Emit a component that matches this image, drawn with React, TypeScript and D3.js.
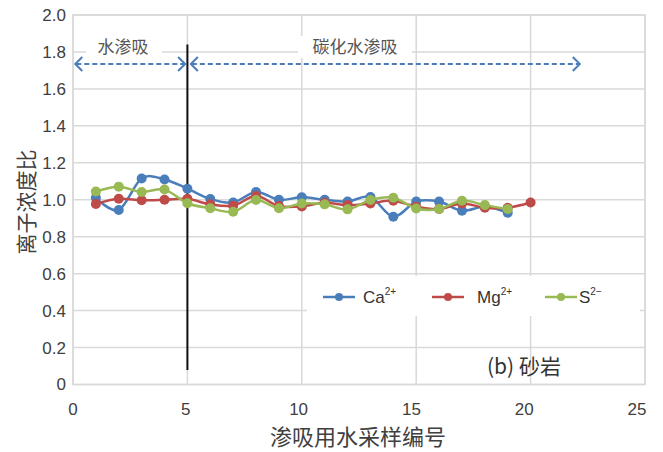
import React from "react";
import * as d3 from "d3";

// Sample numbers along the x axis
const samples = [1, 2, 3, 4, 5, 6, 7, 8, 9, 10, 11, 12, 13, 14, 15, 16, 17, 18, 19, 20];

// Ion concentration ratios per sample
const caValues = [1.01, 0.945, 1.115, 1.11, 1.06, 1.004, 0.985, 1.042, 1.0, 1.013, 1.0, 0.99, 1.015, 0.908, 0.99, 0.99, 0.941, 0.962, 0.93];
const mgValues = [0.977, 1.005, 0.997, 1.0, 1.005, 0.975, 0.968, 1.02, 0.966, 0.964, 0.984, 0.971, 0.98, 0.995, 0.962, 0.95, 0.98, 0.957, 0.957, 0.985];
const sValues = [1.045, 1.071, 1.042, 1.055, 0.981, 0.954, 0.935, 0.999, 0.954, 0.98, 0.975, 0.948, 0.999, 1.011, 0.953, 0.95, 0.995, 0.971, 0.95];

const xTicks = [0, 5, 10, 15, 20, 25];
const yTicks = [0, 0.2, 0.4, 0.6, 0.8, 1.0, 1.2, 1.4, 1.6, 1.8, 2.0];

const seriesList = [
  { name: "Ca", sup: "2+", color: "#4a7ebb", values: caValues },
  { name: "Mg", sup: "2+", color: "#be4b48", values: mgValues },
  { name: "S", sup: "2−", color: "#98b954", values: sValues },
];

const xTitle = "渗吸用水采样编号";
const yTitle = "离子浓度比";
const stageA = "水渗吸";
const stageB = "碳化水渗吸";
const panelLabel = "(b) 砂岩";

const W = 663;
const H = 452;
const plot = { left: 73, right: 645, top: 15, bottom: 384.5 };

const FONT = "'Liberation Sans', Arial, 'Noto Sans CJK SC', sans-serif";
const CJK = "'Noto Sans CJK SC', 'Liberation Sans', sans-serif";

export default function App() {
  const x = d3.scaleLinear().domain([0, 25]).range([plot.left, plot.right]);
  const xLabel = d3.scaleLinear().domain([0, 25]).range([plot.left, plot.right - 8]);
  const y = d3.scaleLinear().domain([0, 2]).range([plot.bottom, plot.top]);

  const line = d3
    .line<number>()
    .x((_, i) => x(samples[i]))
    .y((v) => y(v))
    .curve(d3.curveCardinal.tension(0));

  const stageY = y(1.735);
  const headSize = 7;

  const arrow = (x0: number, x1: number, key: string) => {
    const a = x(x0);
    const b = x(x1);
    return (
      <g key={key} stroke="#4a7ebb" strokeWidth={2} fill="none">
        <line x1={a + 1} x2={b - 1} y1={stageY} y2={stageY} strokeDasharray="5,3" />
        <polyline points={`${a + headSize},${stageY - headSize} ${a},${stageY} ${a + headSize},${stageY + headSize}`} />
        <polyline points={`${b - headSize},${stageY - headSize} ${b},${stageY} ${b - headSize},${stageY + headSize}`} />
      </g>
    );
  };

  const legendY = 297;
  const legendItems = [
    { lx: 323, tx: 363 },
    { lx: 432, tx: 477 },
    { lx: 545, tx: 579 },
  ];

  return (
    <div style={{ position: "fixed", left: 0, top: 0 }}>
      <svg width={W} height={H} style={{ display: "block", background: "#fff" }}>
        {/* grid */}
        <g stroke="#d9d9d9" strokeWidth={1.5}>
          {yTicks.map((t) => (
            <line key={"gy" + t} x1={plot.left} x2={plot.right} y1={y(t)} y2={y(t)} />
          ))}
          {xTicks.map((t) => (
            <line key={"gx" + t} x1={x(t)} x2={x(t)} y1={plot.top} y2={plot.bottom} />
          ))}
        </g>

        {/* axis tick labels */}
        <g fontFamily={FONT} fontSize={17} fill="#404040">
          {yTicks.map((t) => (
            <text key={"ly" + t} x={66} y={y(t)} dy="0.35em" textAnchor="end">
              {t === 0 ? "0" : d3.format(".1f")(t)}
            </text>
          ))}
          {xTicks.map((t) => (
            <text key={"lx" + t} x={xLabel(t)} y={415} textAnchor="middle">
              {t}
            </text>
          ))}
        </g>

        {/* axis titles */}
        <text x={358} y={445} textAnchor="middle" fontFamily={CJK} fontSize={22} fill="#404040">
          {xTitle}
        </text>
        <text
          transform={`translate(34, 202) rotate(-90)`}
          textAnchor="middle"
          fontFamily={CJK}
          fontSize={21}
          fill="#404040"
        >
          {yTitle}
        </text>

        {/* stage labels with white backing */}
        <rect x={86} y={36} width={76} height={22} fill="#fff" />
        <rect x={298} y={36} width={114} height={22} fill="#fff" />
        <g fontFamily={CJK} fontSize={17} fill="#555">
          <text x={123} y={47} dy="0.35em" textAnchor="middle">{stageA}</text>
          <text x={355} y={47} dy="0.35em" textAnchor="middle">{stageB}</text>
        </g>

        {/* stage arrows */}
        {arrow(0.1, 4.9, "a1")}
        {arrow(5.15, 22.15, "a2")}

        {/* boundary between stages */}
        <line x1={x(5)} x2={x(5)} y1={y(1.84)} y2={y(0.078)} stroke="#111" strokeWidth={2} />

        {/* legend */}
        <rect x={307} y={276} width={333} height={40} fill="#fff" />
        {seriesList.map((s, i) => (
          <g key={"lg" + s.name}>
            <line
              x1={legendItems[i].lx}
              x2={legendItems[i].lx + 32}
              y1={legendY}
              y2={legendY}
              stroke={s.color}
              strokeWidth={2.5}
            />
            <circle cx={legendItems[i].lx + 16} cy={legendY} r={4} fill={s.color} />
            <text x={legendItems[i].tx} y={legendY} dy="0.35em" fontFamily={FONT} fontSize={17} fill="#333">
              {s.name}
              <tspan fontSize={10} dy="-0.75em">{s.sup}</tspan>
            </text>
          </g>
        ))}

        {/* series */}
        {seriesList.map((s) => (
          <g key={s.name}>
            <path d={line(s.values) ?? ""} fill="none" stroke={s.color} strokeWidth={2.5} />
            {s.values.map((v, i) => (
              <circle key={i} cx={x(samples[i])} cy={y(v)} r={5} fill={s.color} />
            ))}
          </g>
        ))}

        {/* panel label */}
        <text x={487} y={367} dy="0.35em" fontFamily={CJK} fontSize={21} fill="#333">
          {panelLabel}
        </text>

        {/* plot frame */}
        <rect
          x={plot.left}
          y={plot.top}
          width={plot.right - plot.left}
          height={plot.bottom - plot.top}
          fill="none"
          stroke="#d9d9d9"
          strokeWidth={1.5}
        />
      </svg>
    </div>
  );
}
